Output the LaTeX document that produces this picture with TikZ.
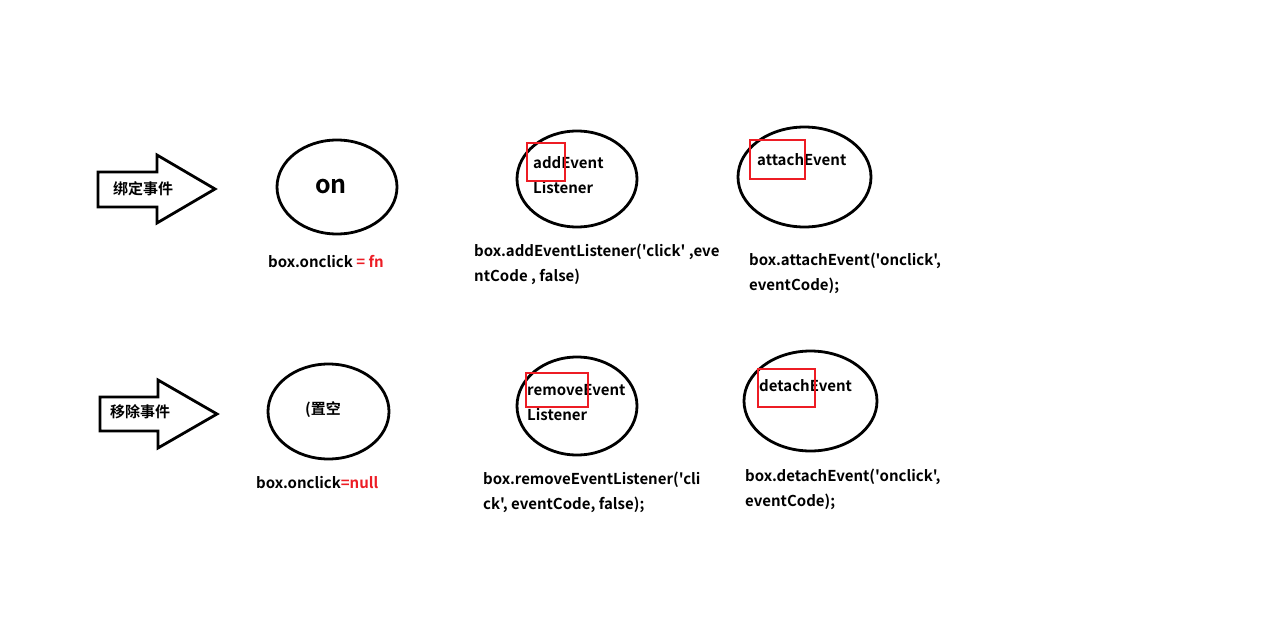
\documentclass[tikz,border=0pt]{standalone}
\usepackage{fontspec}
\newfontfamily\ff{Noto Sans CJK SC Bold}
\definecolor{pred}{RGB}{237,28,36}
\begin{document}
\begin{tikzpicture}[x=1pt,y=-1pt,
  ell/.style={draw=black,line width=2.8pt},
  hl/.style={draw=pred,line width=2.8pt},
  arr/.style={draw=black,line width=2.8pt,fill=white,line join=miter},
  txt/.style={anchor=west,inner sep=0pt,font=\ff\fontsize{15}{17}\selectfont},
  ltxt/.style={txt,fill=white}]
\useasboundingbox[fill=white] (0,0) rectangle (1274,642);
% arrows
\draw[arr] (98,172) -- (157,172) -- (157,155) -- (215,189) -- (157,223) -- (157,207) -- (98,207) -- cycle;
\node[txt] (a1) at (113,189) {绑定事件};
\draw[arr] (100,397) -- (158,397) -- (158,380) -- (217,414) -- (158,448) -- (158,431) -- (100,431) -- cycle;
\node[txt] (a2) at (110,412) {移除事件};
% ellipses row 1
\draw[ell] (337,187) ellipse [x radius=60,y radius=47];
\node[txt,anchor=center,font=\ff\fontsize{25}{28}\selectfont] (on) at (331,186) {on};
\draw[ell] (577,179) ellipse [x radius=60,y radius=48];
\node[txt] (ae1) at (533,163) {addEvent};
\node[txt] (ae2) at (533,188) {Listener};
\draw[hl] (527,143) rectangle (565,181);
\draw[ell] (804.5,177) ellipse [x radius=66.5,y radius=50];
\node[txt] (at1) at (757,160) {attachEvent};
\draw[hl] (750,140) rectangle (805,179);
% ellipses row 2
\draw[ell] (328.5,411.5) ellipse [x radius=60.5,y radius=47.5];
\node[txt] (nul) at (305,410) {(置空};
\draw[ell] (577,406) ellipse [x radius=60,y radius=49];
\node[ltxt] (re1) at (527,390) {removeEvent};
\node[txt] (re2) at (527,415) {Listener};
\draw[hl] (526,373) rectangle (588,407);
\draw[ell] (810.5,401) ellipse [x radius=66.5,y radius=50];
\node[txt] (de1) at (759,386) {detachEvent};
\draw[hl] (758,369) rectangle (815,407);
% labels
\node[txt] (l1) at (268,262) {box.onclick \textcolor{pred}{= fn}};
\node[txt] (l2a) at (474,252) {box.addEventListener('click' ,eve};
\node[txt] (l2b) at (474,277) {ntCode , false)};
\node[txt] (l3a) at (749,261) {box.attachEvent('onclick',};
\node[txt] (l3b) at (749,286) {eventCode);};
\node[txt] (l4) at (256,483) {box.onclick\textcolor{pred}{=null}};
\node[txt] (l5a) at (483,480) {box.removeEventListener('cli};
\node[txt] (l5b) at (483,505) {ck', eventCode, false);};
\node[txt] (l6a) at (745,477) {box.detachEvent('onclick',};
\node[txt] (l6b) at (745,502) {eventCode);};
\end{tikzpicture}
\end{document}
